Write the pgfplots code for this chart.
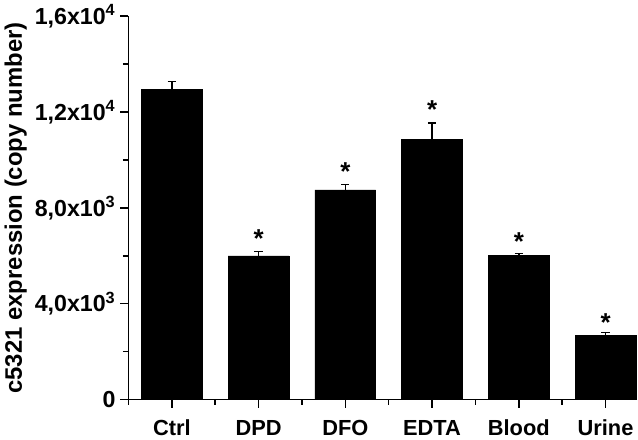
\documentclass[border=0pt]{standalone}
\usepackage{pgfplots}
\pgfplotsset{compat=1.18}
\usepackage{fontspec}
\setmainfont{Liberation Sans}

% bar heights and upper error
\pgfplotstableread{
x  y      err
0  12950  330
1  6000   180
2  8750   230
3  10850  690
4  6020   80
5  2680   110
}\bars
% asterisk tops
\pgfplotstableread{
x  y
1  7100
2  9900
3  12470
4  6990
5  3610
}\stars

\begin{document}
\begin{tikzpicture}
\begin{axis}[
  scale only axis,
  width=372pt, height=281pt,
  xmin=-0.5, xmax=5.35,
  ymin=0, ymax=16000,
  axis x line*=bottom, axis y line*=left,
  axis line style={line width=1.1pt},
  every tick/.style={black, line width=1.1pt},
  tick align=outside,
  major tick length=6pt, minor tick length=4pt,
  xtick={0,...,5},
  minor xtick={-0.5,0.5,1.5,2.5,3.5,4.5},
  xticklabels={Ctrl,DPD,DFO,EDTA,Blood,Urine},
  ytick={0,4000,8000,12000,16000},
  minor ytick={2000,6000,10000,14000},
  yticklabels={0,{4,0x10\textsuperscript{3}},{8,0x10\textsuperscript{3}},{1,2x10\textsuperscript{4}},{1,6x10\textsuperscript{4}}},
  scaled y ticks=false,
  xticklabel style={font=\fontsize{16}{19}\selectfont\bfseries, yshift=-5pt,
    text height=11.5pt, text depth=0pt},
  yticklabel style={font=\fontsize{17}{20}\selectfont\bfseries},
  ylabel={c5321 expression (copy number)},
  ylabel style={font=\fontsize{17.5}{20}\selectfont\bfseries, yshift=-1pt},
  clip=false,
]
\addplot[ybar, bar width=0.7, fill=black, draw=black,
  error bars/.cd, y dir=plus, y explicit,
  error bar style={line width=1.1pt, black},
  error mark options={rotate=90, mark size=3pt, line width=1.1pt, black}]
  table[x=x, y=y, y error=err] {\bars};
\addplot[draw=none, mark=none,
  nodes near coords={*},
  every node near coord/.style={anchor=north, inner sep=0pt, yshift=0pt,
    font=\fontsize{19}{21}\selectfont\bfseries}]
  table[x=x, y=y] {\stars};
\end{axis}
\end{tikzpicture}
\end{document}
